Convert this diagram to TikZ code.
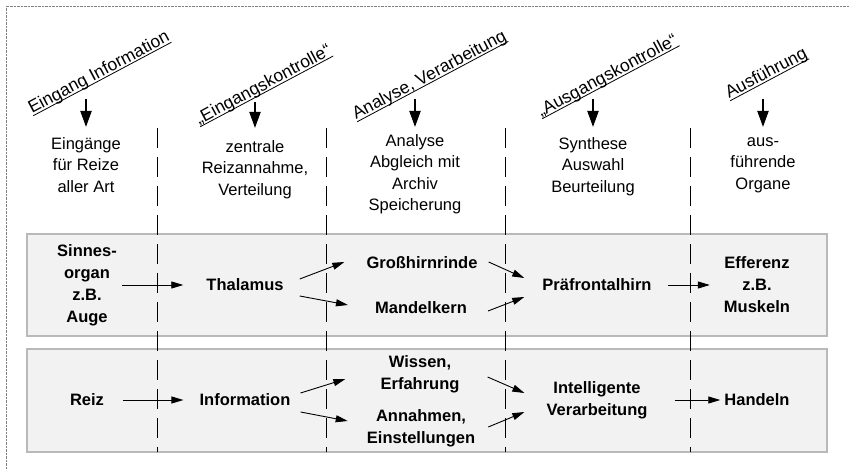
\documentclass[tikz,border=0pt]{standalone}
\usepackage{fontspec}
\setmainfont{Liberation Sans}
\usetikzlibrary{arrows.meta}

% underline that cuts through the descenders
\newcommand\ulhead[1]{\setbox0\hbox{#1}\rlap{\rule[-2.5pt]{\wd0}{0.8pt}}\box0}

\tikzset{
  heading/.style={rotate=28, anchor=base west, inner sep=0pt, font=\fontsize{17.5}{20}\selectfont},
  coltext/.style={anchor=north, align=center, inner sep=0pt, font=\fontsize{16.5}{21.5}\selectfont},
  stage/.style={align=center, inner sep=0pt, font=\fontsize{16.5}{22}\selectfont\bfseries},
  band/.style={draw=gray!55, fill=gray!10, line width=1.5pt},
  divider/.style={dash pattern=on 20pt off 9pt, line width=0.9pt},
  downarr/.style={-{Triangle[length=16pt,width=11pt]}, line width=2pt},
  flow/.style={-{Triangle[length=12pt,width=7pt]}, line width=0.9pt},
}

\begin{document}
\begin{tikzpicture}[x=1pt, y=-1pt]
    \useasboundingbox (0,0) rectangle (849,470);
    \draw[gray, densely dotted] (6,470) -- (6,6) -- (849,6);

    % grey bands
    \draw[band] (27,234) rectangle (827,336);
    \draw[band] (27,349) rectangle (827,452);

    \foreach \x in {157,326,505,690}
        \draw[divider] (\x,128) -- (\x,452);

    % headings
    \node[heading] (h1) at (32,114) {\ulhead{Eingang Information}};
    \node[heading] (h2) at (199,125) {\ulhead{„Eingangskontrolle“}};
    \node[heading] (h3) at (356,120) {\ulhead{Analyse, Verarbeitung}};
    \node[heading] (h4) at (541,117) {\ulhead{„Ausgangskontrolle“}};
    \node[heading] (h5) at (729,99) {\ulhead{Ausführung}};

    % column texts
    \node[coltext] (c1) at (86,137) {Eingänge\\für Reize\\aller Art};
    \node[coltext] (c2) at (255,140) {zentrale\\Reizannahme,\\Verteilung};
    \node[coltext] (c3) at (415,134) {Analyse\\Abgleich mit\\Archiv\\Speicherung};
    \node[coltext] (c4) at (593,137) {Synthese\\Auswahl\\Beurteilung};
    \node[coltext] (c5) at (763,137) {aus-\\führende\\Organe};

    \coordinate (t1) at (86,99);
    \coordinate (t2) at (255,102);
    \coordinate (t3) at (415,99);
    \coordinate (t4) at (593,99);
    \coordinate (t5) at (763,99);
    \draw[downarr] (t1) -- ([yshift=10pt]c1.north);
    \draw[downarr] (t2) -- ([yshift=12pt]c2.north);
    \draw[downarr] (t3) -- ([yshift=7pt]c3.north);
    \draw[downarr] (t4) -- ([yshift=10pt]c4.north);
    \draw[downarr] (t5) -- ([yshift=10pt]c5.north);

    % upper band
    \node[stage] (sinn) at (87,285) {Sinnes-\\organ\\z.B.\\Auge};
    \node[stage] (thal) at (245,285) {Thalamus};
    \node[stage] (gross) at (422,263) {Großhirnrinde};
    \node[stage] (mandel) at (421,308) {Mandelkern};
    \node[stage] (praef) at (597,285) {Präfrontalhirn};
    \node[stage] (eff) at (757,285) {Efferenz\\z.B.\\Muskeln};

    \draw[flow] ([xshift=5pt]sinn.east) -- ([xshift=-23pt]thal.west);
    \draw[flow] ([xshift=16pt,yshift=6pt]thal.east) -- ([xshift=-22pt,yshift=1pt]gross.west);
    \draw[flow] ([xshift=16pt,yshift=-11pt]thal.east) -- ([xshift=-27pt,yshift=3pt]mandel.west);
    \draw[flow] ([xshift=11pt,yshift=1pt]gross.east) -- ([xshift=-18pt,yshift=7pt]praef.west);
    \draw[flow] ([xshift=21pt,yshift=-3pt]mandel.east) -- ([xshift=-18pt,yshift=-12pt]praef.west);
    \draw[flow] ([xshift=16pt]praef.east) -- ([xshift=-14pt]eff.west);

    % lower band
    \node[stage] (reiz) at (87,400) {Reiz};
    \node[stage] (info) at (245,400) {Information};
    \node[stage] (wissen) at (420,374) {Wissen,\\Erfahrung};
    \node[stage] (annahmen) at (421,428) {Annahmen,\\Einstellungen};
    \node[stage] (intel) at (597,400) {Intelligente\\Verarbeitung};
    \node[stage] (handeln) at (757,400) {Handeln};

    \draw[flow] ([xshift=19pt]reiz.east) -- ([xshift=-16pt]info.west);
    \draw[flow] ([xshift=10pt,yshift=7pt]info.east) -- ([xshift=-35pt,yshift=-5pt]wissen.west);
    \draw[flow] ([xshift=10pt,yshift=-12pt]info.east) -- ([xshift=-19pt,yshift=7pt]annahmen.west);
    \draw[flow] ([xshift=28pt,yshift=-3pt]wissen.east) -- ([xshift=-22pt,yshift=7pt]intel.west);
    \draw[flow] ([xshift=13pt,yshift=1pt]annahmen.east) -- ([xshift=-22pt,yshift=-12pt]intel.west);
    \draw[flow] ([xshift=27pt]intel.east) -- ([xshift=-4pt]handeln.west);
\end{tikzpicture}
\end{document}
